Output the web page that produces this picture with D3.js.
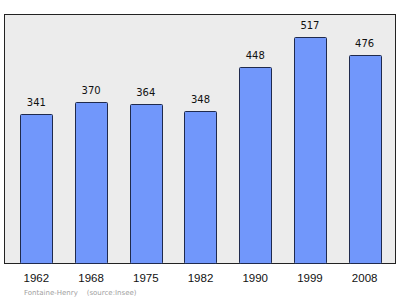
<!DOCTYPE html>
<meta charset="utf-8">
<style>
  body { margin: 0; background: #fff; }
  svg { display: block; font-family: "DejaVu Sans", sans-serif; }
  .bar { fill: #7197fb; stroke: #1f2a4d; stroke-width: 1; }
  .val { font-size: 10px; fill: #111; text-anchor: middle; }
  .yr { font-size: 11.5px; fill: #111; text-anchor: middle; }
  .src { font-size: 7px; fill: #a0a0a0; white-space: pre; }
</style>
<body></body>
<script src="https://d3js.org/d3.v7.min.js"></script>
<script>

var years = ["1962", "1968", "1975", "1982", "1990", "1999", "2008"];
var population = [341, 370, 364, 348, 448, 517, 476];

var width = 400, height = 299;
var frame = {left: 4.5, top: 14.5, right: 395.5, bottom: 263.5};

var svg = d3.select("body").append("svg")
    .attr("width", width)
    .attr("height", height);

var xScale = d3.scaleBand()
    .domain(years)
    .range([9, 392])
    .paddingInner(0.415)
    .paddingOuter(0.2075);

var yScale = d3.scaleLinear()
    .domain([0, 569])
    .range([frame.bottom, frame.top]);

svg.append("rect")
    .attr("x", frame.left)
    .attr("y", frame.top)
    .attr("width", frame.right - frame.left)
    .attr("height", frame.bottom - frame.top)
    .attr("fill", "#ececec")
    .attr("stroke", "#222")
    .attr("stroke-width", 1);

var data = years.map(function (y, i) { return {year: y, pop: population[i]}; });

svg.selectAll(".bar")
    .data(data)
  .enter().append("rect")
    .attr("class", "bar")
    .attr("x", function (d) { return Math.round(xScale(d.year)) + 0.5; })
    .attr("y", function (d) { return Math.round(yScale(d.pop)) + 0.5; })
    .attr("width", Math.round(xScale.bandwidth()))
    .attr("height", function (d) { return frame.bottom - Math.round(yScale(d.pop)) - 0.5; })
    .attr("rx", 1);

svg.selectAll(".val")
    .data(data)
  .enter().append("text")
    .attr("class", "val")
    .attr("x", function (d) { return xScale(d.year) + xScale.bandwidth() / 2; })
    .attr("y", function (d) { return yScale(d.pop) - 8; })
    .text(function (d) { return d.pop; });

// year labels under the frame
var xAxis = d3.axisBottom(xScale).tickSize(0).tickPadding(0);
var ax = svg.append("g")
    .attr("transform", "translate(0,282)")
    .call(xAxis);
ax.select(".domain").remove();
ax.selectAll("text")
    .attr("class", "yr")
    .attr("dy", 0)
    .attr("font-family", null)
    .attr("font-size", null)
    .attr("fill", null);

svg.append("text")
    .attr("class", "src")
    .attr("x", 24)
    .attr("y", 295)
    .text("Fontaine-Henry    (source:Insee)");

</script>
